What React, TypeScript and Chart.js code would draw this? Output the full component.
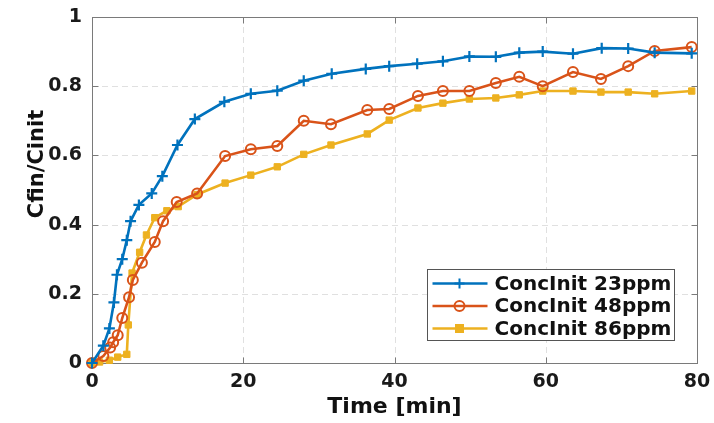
import React, { useEffect, useRef } from "react";
import { Chart, registerables } from "chart.js";

Chart.register(...registerables);

// ---- data ----
const time23 = [0, 1.5, 2.3, 2.9, 3.3, 4.0, 4.6, 5.1, 6.2, 7.9, 9.3, 11.3, 13.6, 17.5, 21.0, 24.5, 28.0, 31.7, 36.2, 39.3, 43.0, 46.4, 49.9, 53.4, 56.5, 59.6, 63.6, 67.4, 70.9, 74.4, 79.3];
const conc23 = [0, 0.05, 0.10, 0.175, 0.255, 0.30, 0.355, 0.41, 0.457, 0.49, 0.54, 0.63, 0.705, 0.755, 0.778, 0.787, 0.816, 0.836, 0.85, 0.858, 0.865, 0.872, 0.886, 0.885, 0.897, 0.9, 0.894, 0.91, 0.909, 0.897, 0.895];

const time48 = [0, 1.5, 2.4, 2.8, 3.4, 4.0, 4.9, 5.4, 6.6, 8.3, 9.4, 11.2, 13.9, 17.6, 21.0, 24.5, 28.0, 31.6, 36.4, 39.3, 43.1, 46.4, 49.9, 53.4, 56.5, 59.6, 63.6, 67.3, 70.9, 74.4, 79.3];
const conc48 = [0, 0.02, 0.045, 0.06, 0.08, 0.13, 0.19, 0.24, 0.29, 0.35, 0.41, 0.465, 0.49, 0.598, 0.618, 0.627, 0.70, 0.69, 0.731, 0.734, 0.772, 0.786, 0.786, 0.809, 0.827, 0.80, 0.841, 0.821, 0.858, 0.902, 0.913];

const time86 = [0, 1.0, 2.3, 3.4, 4.6, 4.8, 5.3, 6.3, 7.2, 8.3, 9.9, 11.4, 13.9, 17.6, 21.0, 24.5, 28.0, 31.6, 36.4, 39.3, 43.1, 46.4, 49.9, 53.4, 56.5, 59.6, 63.6, 67.3, 70.9, 74.4, 79.3];
const conc86 = [0, 0.003, 0.008, 0.017, 0.025, 0.11, 0.26, 0.32, 0.37, 0.42, 0.44, 0.452, 0.487, 0.52, 0.543, 0.567, 0.603, 0.63, 0.662, 0.702, 0.737, 0.751, 0.763, 0.766, 0.775, 0.786, 0.786, 0.783, 0.783, 0.778, 0.786];

const seriesLabels = ["ConcInit 23ppm", "ConcInit 48ppm", "ConcInit 86ppm"];
const xTickValues = [0, 20, 40, 60, 80];
const yTickValues = [0, 0.2, 0.4, 0.6, 0.8, 1];
const xTitle = "Time [min]";
const yTitle = "Cfin/Cinit";

const BLUE = "#0072BD";
const ORANGE = "#D95319";
const YELLOW = "#EDB120";
const FONT = "'DejaVu Sans', 'Liberation Sans', Arial, sans-serif";

const toPoints = (xs: number[], ys: number[]) => xs.map((x, i) => ({ x, y: ys[i] }));

function drawMarker(ctx: CanvasRenderingContext2D, style: string, x: number, y: number, color: string) {
  ctx.save();
  ctx.strokeStyle = color;
  ctx.fillStyle = color;
  ctx.lineWidth = 2;
  ctx.beginPath();
  if (style === "cross") {
    ctx.moveTo(x - 5, y); ctx.lineTo(x + 5, y);
    ctx.moveTo(x, y - 5); ctx.lineTo(x, y + 5);
    ctx.stroke();
  } else if (style === "circle") {
    ctx.arc(x, y, 5, 0, Math.PI * 2);
    ctx.stroke();
  } else {
    ctx.rect(x - 4.5, y - 4.5, 9, 9);
    ctx.fill();
  }
  ctx.restore();
}

const framePlugin = {
  id: "matlabFrame",
  beforeDatasetsDraw(chart: any) {
    const { ctx, chartArea: a, scales } = chart;
    const xs = scales.x, ys = scales.y;
    ctx.save();
    // dashed grid
    ctx.strokeStyle = "#e0e0e0";
    ctx.lineWidth = 1;
    ctx.setLineDash([6, 4]);
    xTickValues.slice(1, -1).forEach((v) => {
      const px = Math.round(xs.getPixelForValue(v)) + 0.5;
      ctx.beginPath(); ctx.moveTo(px, a.top); ctx.lineTo(px, a.bottom); ctx.stroke();
    });
    yTickValues.slice(1, -1).forEach((v) => {
      const py = Math.round(ys.getPixelForValue(v)) + 0.5;
      ctx.beginPath(); ctx.moveTo(a.left, py); ctx.lineTo(a.right, py); ctx.stroke();
    });
    ctx.setLineDash([]);
    // box
    ctx.strokeStyle = "#7a7a7a";
    ctx.lineWidth = 1;
    const l = Math.round(a.left) + 0.5, r = Math.round(a.right) + 0.5;
    const t = Math.round(a.top) + 0.5, b = Math.round(a.bottom) + 0.5;
    ctx.strokeRect(l, t, r - l, b - t);
    // inward ticks
    const tl = 6;
    ctx.beginPath();
    xTickValues.forEach((v) => {
      const px = Math.round(xs.getPixelForValue(v)) + 0.5;
      ctx.moveTo(px, b); ctx.lineTo(px, b - tl);
      ctx.moveTo(px, t); ctx.lineTo(px, t + tl);
    });
    yTickValues.forEach((v) => {
      const py = Math.round(ys.getPixelForValue(v)) + 0.5;
      ctx.moveTo(l, py); ctx.lineTo(l + tl, py);
      ctx.moveTo(r, py); ctx.lineTo(r - tl, py);
    });
    ctx.stroke();
    ctx.restore();
  },
  afterDraw(chart: any) {
    const { ctx, chartArea: a } = chart;
    ctx.save();
    // y title
    ctx.translate(38, 164);
    ctx.rotate(-Math.PI / 2);
    ctx.fillStyle = "#111";
    ctx.font = `bold 21px ${FONT}`;
    ctx.textAlign = "center";
    ctx.textBaseline = "middle";
    ctx.fillText(yTitle, 0, 0);
    ctx.restore();

    // legend
    ctx.save();
    const bx = Math.round(a.right) - 270 + 0.5;
    const by = Math.round(a.bottom) - 94 + 0.5;
    const bw = 247, bh = 71;
    ctx.fillStyle = "#ffffff";
    ctx.fillRect(bx, by, bw, bh);
    ctx.strokeStyle = "#555";
    ctx.lineWidth = 1;
    ctx.strokeRect(bx, by, bw, bh);
    chart.data.datasets.forEach((ds: any, i: number) => {
      const yy = by + 14 + i * 22.5;
      ctx.strokeStyle = ds.borderColor;
      ctx.lineWidth = 2.5;
      ctx.beginPath();
      ctx.moveTo(bx + 5, yy);
      ctx.lineTo(bx + 60, yy);
      ctx.stroke();
      drawMarker(ctx, ds.pointStyle, bx + 32, yy, ds.borderColor);
      ctx.fillStyle = "#111";
      ctx.font = `bold 20px ${FONT}`;
      ctx.textAlign = "left";
      ctx.textBaseline = "middle";
      ctx.fillText(ds.label, bx + 67, yy + 1);
    });
    ctx.restore();
  },
};

export default function App() {
  const canvasRef = useRef<HTMLCanvasElement | null>(null);

  useEffect(() => {
    if (!canvasRef.current) return;
    const chart = new Chart(canvasRef.current, {
      type: "line",
      data: {
        datasets: [
          {
            label: seriesLabels[0],
            data: toPoints(time23, conc23),
            borderColor: BLUE,
            backgroundColor: BLUE,
            borderWidth: 2.6,
            pointStyle: "cross",
            pointRadius: 5.5,
            pointBorderWidth: 2.2,
            pointBorderColor: BLUE,
            clip: false,
          } as any,
          {
            label: seriesLabels[1],
            data: toPoints(time48, conc48),
            borderColor: ORANGE,
            backgroundColor: "rgba(0,0,0,0)",
            borderWidth: 2.6,
            pointStyle: "circle",
            pointRadius: 5,
            pointBorderWidth: 2,
            pointBorderColor: ORANGE,
            pointBackgroundColor: "rgba(0,0,0,0)",
            clip: false,
          } as any,
          {
            label: seriesLabels[2],
            data: toPoints(time86, conc86),
            borderColor: YELLOW,
            backgroundColor: YELLOW,
            borderWidth: 2.6,
            pointStyle: "rect",
            pointRadius: 4.5,
            pointBorderWidth: 1,
            pointBorderColor: YELLOW,
            pointBackgroundColor: YELLOW,
            clip: false,
          } as any,
        ],
      },
      options: {
        animation: false,
        responsive: false,
        maintainAspectRatio: false,
        parsing: false as any,
        layout: { padding: { left: 0, right: 17, top: 17, bottom: 0 } },
        plugins: {
          legend: { display: false },
          tooltip: { enabled: false },
        },
        elements: { line: { tension: 0 } },
        scales: {
          x: {
            type: "linear",
            min: 0,
            max: 80,
            afterFit: (s: any) => { s.height = 60; s.paddingLeft = 0; s.paddingRight = 0; },
            afterBuildTicks: (s: any) => { s.ticks = xTickValues.map((v) => ({ value: v })); },
            grid: { display: false, drawTicks: false },
            border: { display: false },
            ticks: {
              padding: 8,
              color: "#1a1a1a",
              font: { family: FONT, weight: "bold", size: 19 },
              callback: (v: any) => String(v),
            },
            title: {
              display: true,
              text: xTitle,
              color: "#111",
              font: { family: FONT, weight: "bold", size: 22 },
              padding: { top: 0, bottom: 3 },
            },
          },
          y: {
            type: "linear",
            min: 0,
            max: 1,
            afterFit: (s: any) => { s.width = 92; s.paddingTop = 0; s.paddingBottom = 0; },
            afterBuildTicks: (s: any) => { s.ticks = yTickValues.map((v) => ({ value: v })); },
            grid: { display: false, drawTicks: false },
            border: { display: false },
            ticks: {
              padding: 10,
              color: "#1a1a1a",
              font: { family: FONT, weight: "bold", size: 19 },
              callback: (v: any) => String(Number(Number(v).toFixed(1))),
            },
          },
        },
      },
      plugins: [framePlugin],
    });
    return () => chart.destroy();
  }, []);

  return (
    <div style={{ position: "absolute", left: 0, top: 0, width: 714, height: 423, background: "#fff" }}>
      <canvas ref={canvasRef} width={714} height={423} style={{ display: "block" }} />
    </div>
  );
}
